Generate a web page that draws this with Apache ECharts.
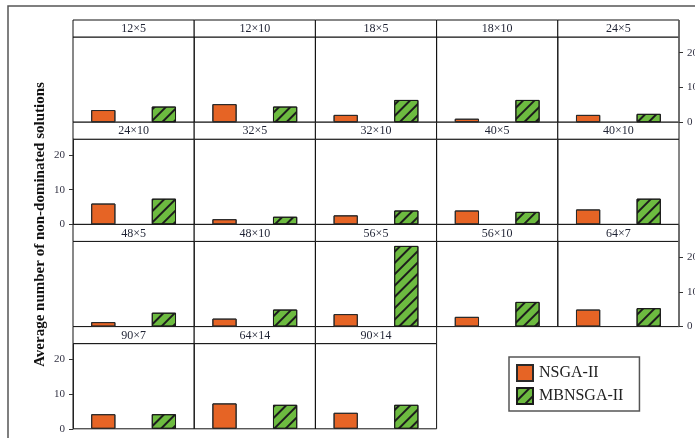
<!DOCTYPE html>
<html>
<head>
<meta charset="utf-8">
<script src="https://cdn.jsdelivr.net/npm/echarts@6/dist/echarts.min.js"></script>
<style>
  html, body { margin: 0; padding: 0; background: #fff; }
  #chart { width: 695px; height: 438px; }
</style>
</head>
<body>
<div id="chart"></div>
<script>
// Problem instances (jobs × machines), one panel each
const instances = [
  '12×5', '12×10', '18×5', '18×10', '24×5',
  '24×10', '32×5', '32×10', '40×5', '40×10',
  '48×5', '48×10', '56×5', '56×10', '64×7',
  '90×7', '64×14', '90×14'
];
const algorithms = ['NSGA-II', 'MBNSGA-II'];
// Average number of non-dominated solutions per instance
const nsga2 = [3.5, 5.2, 2.1, 1.0, 2.1, 6.0, 1.5, 2.6, 4.0, 4.3, 1.3, 2.3, 3.6, 2.8, 4.9, 4.2, 7.3, 4.6];
const mbnsga2 = [4.5, 4.5, 6.4, 6.4, 2.4, 7.4, 2.2, 4.0, 3.6, 7.4, 4.0, 4.9, 23.2, 7.1, 5.3, 4.2, 6.9, 6.9];
const yTicks = [0, 10, 20];
const yMax = 24.5;
const yTitle = 'Average number of non-dominated solutions';

const COLS = 5;
const LEFT = 73, TOP = 20, COL_W = 121.2, ROW_H = 102.2, STRIP_H = 17;
const ORANGE = '#E66425', GREEN = '#6DBB40';
const serif = "'Liberation Serif', 'Times New Roman', serif";

const hatch = {
  symbol: 'rect', symbolSize: 1,
  dashArrayX: [1, 0], dashArrayY: [1.1, 5.6],
  rotation: -Math.PI / 4, color: '#1c1c1c'
};

const grids = [], xAxes = [], yAxes = [], series = [];
const graphics = [
  { type: 'rect', shape: { x: 8, y: 6, width: 720, height: 460 },
    style: { fill: 'none', stroke: '#555', lineWidth: 1.5 }, z: 0 },
  { type: 'text', x: 40, y: 224.5, rotation: Math.PI / 2,
    style: { text: yTitle, font: 'bold 15px ' + serif, fill: '#111',
             textAlign: 'center', textVerticalAlign: 'middle' } }
];

instances.forEach((name, i) => {
  const r = Math.floor(i / COLS), c = i % COLS;
  const x0 = LEFT + c * COL_W, y0 = TOP + r * ROW_H;
  grids.push({ left: x0, top: y0 + STRIP_H, width: COL_W, height: ROW_H - STRIP_H,
               containLabel: false, outerBoundsMode: 'none',
               show: true, borderColor: '#111', borderWidth: 1, backgroundColor: 'transparent' });
  xAxes.push({ gridIndex: i, type: 'category', data: algorithms,
               axisLine: { show: false }, axisTick: { show: false }, axisLabel: { show: false } });
  const leftAxis = c === 0 && r % 2 === 1;
  const rightAxis = c === COLS - 1 && r % 2 === 0;
  const shown = leftAxis || rightAxis;
  yAxes.push({
    gridIndex: i, type: 'value', min: 0, max: yMax,
    position: rightAxis ? 'right' : 'left',
    splitLine: { show: false },
    axisLine: { show: shown, lineStyle: { color: rightAxis ? '#666' : '#222', width: rightAxis ? 1.5 : 1 } },
    axisTick: { show: shown, length: 4, customValues: yTicks, lineStyle: { color: '#333' } },
    axisLabel: { show: shown, customValues: yTicks, margin: 8,
                 fontFamily: serif, fontSize: 11, color: '#334' }
  });
  series.push({
    name: algorithms[0], type: 'bar', xAxisIndex: i, yAxisIndex: i,
    barWidth: '40%', barGap: '-100%',
    data: [nsga2[i], '-'],
    itemStyle: { color: ORANGE, borderColor: '#2a2a2a', borderWidth: 1, decal: { symbol: 'none' } }
  });
  series.push({
    name: algorithms[1], type: 'bar', xAxisIndex: i, yAxisIndex: i,
    barWidth: '40%', barGap: '-100%',
    data: ['-', mbnsga2[i]],
    itemStyle: { color: GREEN, borderColor: '#1a1a1a', borderWidth: 1, decal: hatch }
  });
  // strip header with the instance name
  graphics.push({ type: 'rect', shape: { x: x0, y: y0, width: COL_W, height: STRIP_H },
                  style: { fill: '#fff', stroke: '#111', lineWidth: 1 } });
  graphics.push({ type: 'text', x: x0 + COL_W / 2, y: y0 + STRIP_H / 2 + 0.5,
                  style: { text: name, font: '12px ' + serif, fill: '#1e2233',
                           textAlign: 'center', textVerticalAlign: 'middle' } });
  if (rightAxis) {
    // the right-hand axis line runs up through the strip header
    graphics.push({ type: 'line', shape: { x1: x0 + COL_W, y1: y0, x2: x0 + COL_W, y2: y0 + STRIP_H },
                    style: { stroke: '#666', lineWidth: 1.5 }, z: 10 });
  }
});

const chart = echarts.init(document.getElementById('chart'), null, { renderer: 'canvas' });
chart.setOption({
  animation: false,
  aria: { enabled: true, decal: { show: true } },
  grid: grids, xAxis: xAxes, yAxis: yAxes, series: series,
  legend: {
    data: algorithms, orient: 'vertical', left: 509, top: 357, icon: 'rect',
    itemWidth: 16, itemHeight: 16, itemGap: 5,
    padding: [7, 16, 6, 7], borderColor: '#555', borderWidth: 1.5,
    textStyle: { fontFamily: serif, fontSize: 16, color: '#222', padding: [0, 0, 0, 1] }
  },
  graphic: graphics
});
</script>
</body>
</html>
